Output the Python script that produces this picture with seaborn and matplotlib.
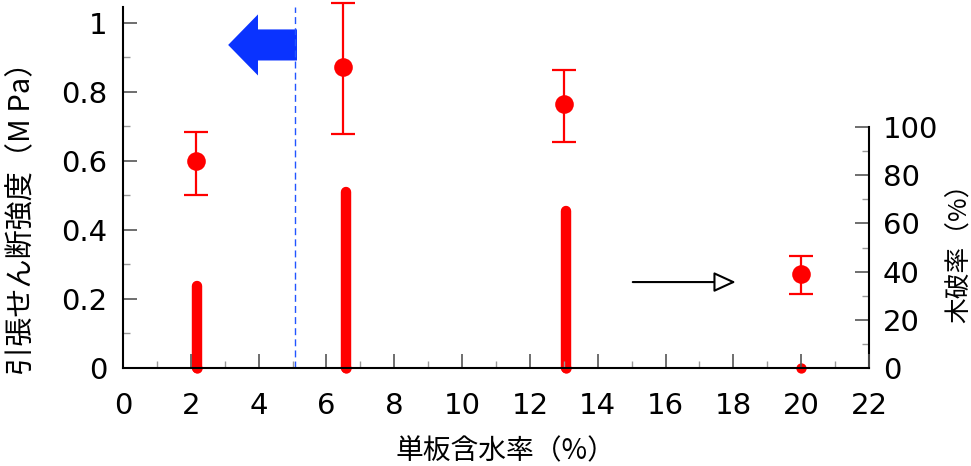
import matplotlib
matplotlib.use("Agg")
import matplotlib.pyplot as plt
import pandas as pd
import seaborn as sns
from matplotlib.ticker import MultipleLocator, FixedLocator

# 引張せん断強度 (MPa) : 平均と誤差範囲
moisture = [2.15, 6.5, 13.0, 20.0]
strength = [0.60, 0.872, 0.765, 0.272]
err_low = [0.10, 0.194, 0.110, 0.058]
err_high = [0.084, 0.186, 0.099, 0.053]

# 木破率 (%)
bar_x = [2.18, 6.57, 13.06, 20.0]
wood_failure = [34, 73, 65, 0]

xticks = list(range(0, 23, 2))
left_ticks = [0, 0.2, 0.4, 0.6, 0.8, 1.0]
left_ticklabels = ["0", "0.2", "0.4", "0.6", "0.8", "1"]
right_ticks = [0, 20, 40, 60, 80, 100]
right_minor = [10, 30, 50, 70, 90]

sns.set_style("ticks")
plt.rcParams['font.family'] = ['DejaVu Sans', 'Noto Sans CJK JP']
plt.rcParams['text.color'] = 'black'
plt.rcParams['axes.labelcolor'] = 'black'
jp = ['Noto Sans CJK JP', 'DejaVu Sans']

df = pd.DataFrame({"moisture": moisture, "strength": strength})
bars = pd.DataFrame({"x": bar_x, "base": [0] * len(bar_x)})

fig = plt.figure(figsize=(9.71, 4.66), dpi=100)
ax = fig.add_axes([0.1267, 0.2103, 0.7683, 0.7747])
ax2 = ax.twinx()

# 木破率 bars (right axis)
ax2.vlines(bar_x, 0, wood_failure, colors="red", linewidth=7.5,
           capstyle="round", clip_on=False, zorder=3)
sns.scatterplot(data=bars, x="x", y="base", ax=ax2, color="red", s=55,
                linewidth=0, clip_on=False, zorder=3)
ax2.set_ylim(0, 149.8)
ax2.set_yticks(right_ticks)
ax2.yaxis.set_minor_locator(FixedLocator(right_minor))
ax2.spines['right'].set_bounds(0, 100)
ax2.spines['top'].set_visible(False)
ax2.spines['left'].set_visible(False)
ax2.spines['bottom'].set_visible(False)
ax2.spines['right'].set_color('black')
ax2.tick_params(axis='y', which='major', direction='in', length=10, width=1.2,
                color='#555555', labelcolor='black', labelsize=21, pad=10)
ax2.tick_params(axis='y', which='minor', direction='in', length=5, width=1,
                color='#999999')
ax2.set_ylabel("木破率（%）", family=jp, fontsize=18.5)
ax2.yaxis.set_label_coords(1.104, 0.335)

# strength points with error bars (left axis)
ax.set_zorder(ax2.get_zorder() + 1)
ax.patch.set_visible(False)
ax.errorbar(moisture, strength, yerr=[err_low, err_high], fmt='none',
            ecolor='red', elinewidth=1.6, capsize=8.5, capthick=1.6, clip_on=False)
sns.scatterplot(data=df, x="moisture", y="strength", ax=ax, color="red",
                s=180, edgecolor="red", linewidth=0, zorder=4, clip_on=False)

ax.axvline(5.07, color="#2255ff", linewidth=1, linestyle=(0, (5, 3)))
ax.arrow(5.13, 0.936, -2.03, 0, width=0.09, head_width=0.177, head_length=0.88,
         length_includes_head=True, color="#0a33ff", linewidth=0)
ax.annotate("", xy=(18.15, 0.249), xytext=(14.95, 0.249),
            arrowprops=dict(arrowstyle="-|>,head_length=1.35,head_width=0.62",
                            fc="white", ec="black", lw=1.5))

ax.set_xlim(0, 22)
ax.set_ylim(0, 1.046)
ax.set_xticks(xticks)
ax.xaxis.set_minor_locator(MultipleLocator(1))
ax.set_yticks(left_ticks)
ax.set_yticklabels(left_ticklabels)
ax.yaxis.set_minor_locator(MultipleLocator(0.1))
ax.spines['top'].set_visible(False)
ax.spines['right'].set_visible(False)
for s in ['left', 'bottom']:
    ax.spines[s].set_linewidth(1.5)
    ax.spines[s].set_color('black')
ax2.spines['right'].set_linewidth(1.5)
ax.tick_params(which='major', direction='in', length=10, width=1.2,
               color='#555555', labelcolor='black', labelsize=21, pad=11)
ax.tick_params(which='minor', direction='in', length=5, width=1, color='#999999')
ax.tick_params(axis='x', which='major', pad=17)
ax.set_xlabel("単板含水率（%）", family=jp, fontsize=20)
ax.xaxis.set_label_coords(0.512, -0.19)
ax.xaxis.label.set_va('top')
ax.set_ylabel("引張せん断強度（M Pa）", family=jp, fontsize=21)
ax.yaxis.set_label_coords(-0.115, 0.435)

fig.savefig("out.png", dpi=100)
